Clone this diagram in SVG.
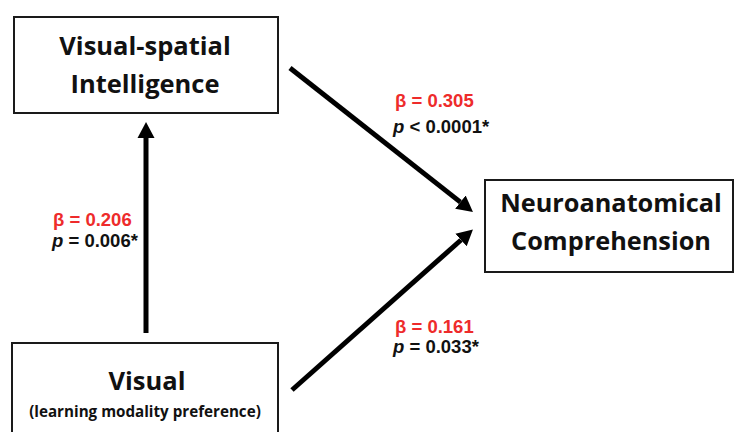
<svg xmlns="http://www.w3.org/2000/svg" width="736" height="432" viewBox="0 0 736 432">
<style>
.box{fill:#fff;stroke:#1a1a1a;stroke-width:2}
.t{font-family:"Open Sans","Noto Sans",sans-serif;font-weight:bold;fill:#111;text-anchor:middle}
.conn{stroke:#000;stroke-width:5;fill:none}
.b{font-family:"Liberation Sans",Arial,sans-serif;font-weight:bold;font-size:18.5px;fill:#ee2b2b}
.p{font-family:"Liberation Sans",Arial,sans-serif;font-weight:bold;font-size:18.5px;fill:#111}
</style>
<defs>
<marker id="ah" markerUnits="userSpaceOnUse" markerWidth="18" markerHeight="20" viewBox="0 -9 18 18" refX="0" refY="0" orient="auto">
<path d="M0,-8.5 L16,0 L0,8.5 z" fill="#000"/>
</marker>
</defs>
<rect width="736" height="432" fill="#fff"/>
<g id="node-visual-spatial">
<rect class="box" x="14" y="17" width="264" height="96"/>
<text class="t" x="145" y="55" font-size="25.5">Visual-spatial</text>
<text class="t" x="145" y="93" font-size="25.5">Intelligence</text>
</g>
<g id="node-neuro">
<rect class="box" x="485" y="180" width="248" height="92"/>
<text class="t" x="611" y="212" font-size="25.3">Neuroanatomical</text>
<text class="t" x="611" y="250" font-size="25.3">Comprehension</text>
</g>
<g id="node-visual">
<rect class="box" x="12" y="343" width="266" height="100"/>
<text class="t" x="147" y="390" font-size="25.5">Visual</text>
<text class="t" x="145" y="417" font-size="15.2">(learning modality preference)</text>
</g>
<g id="connectors">
<line class="conn" x1="146" y1="333" x2="146" y2="138" marker-end="url(#ah)"/>
<line class="conn" x1="290" y1="68" x2="460.4" y2="202.1" marker-end="url(#ah)"/>
<line class="conn" x1="292" y1="390" x2="461" y2="240" marker-end="url(#ah)"/>
</g>
<g id="labels">
<text class="b" x="53" y="226">β = 0.206</text>
<text class="p" x="52" y="247"><tspan font-style="italic">p</tspan> = 0.006*</text>
<text class="b" x="395" y="107">β = 0.305</text>
<text class="p" x="393" y="133"><tspan font-style="italic">p</tspan> &lt; 0.0001*</text>
<text class="b" x="395" y="333">β = 0.161</text>
<text class="p" x="393" y="353"><tspan font-style="italic">p</tspan> = 0.033*</text>
</g>
</svg>
